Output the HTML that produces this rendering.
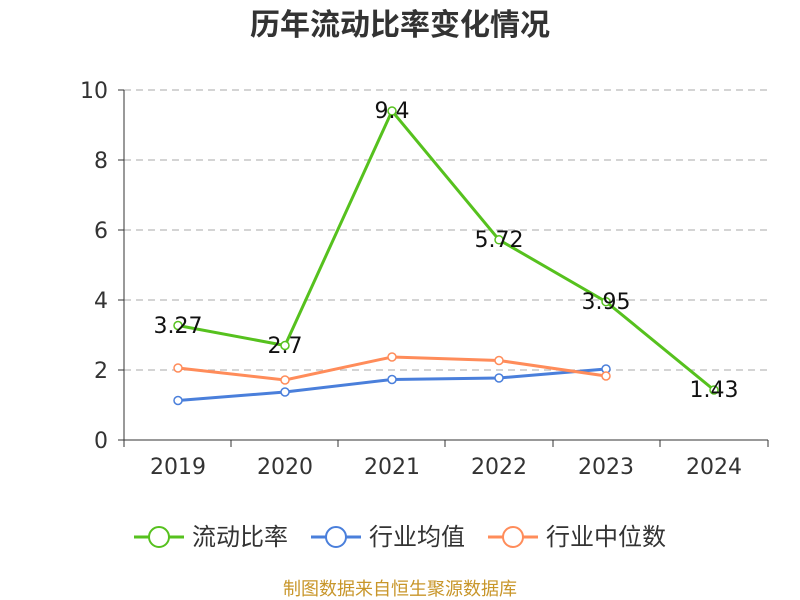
<!DOCTYPE html>
<html><head><meta charset="utf-8"><style>body{margin:0;background:#fff}svg{display:block}</style></head><body>
<svg width="800" height="600" xmlns="http://www.w3.org/2000/svg" font-family="DejaVu Sans, Noto Sans CJK SC, sans-serif">
<text x="400" y="35" text-anchor="middle" font-size="30" font-weight="bold" fill="#333" font-family="Noto Sans CJK SC, sans-serif">历年流动比率变化情况</text>
<g stroke="#bbb" stroke-dasharray="7,5" stroke-width="1.2">
<line x1="124" y1="90" x2="768" y2="90"/><line x1="124" y1="160" x2="768" y2="160"/><line x1="124" y1="230" x2="768" y2="230"/><line x1="124" y1="300" x2="768" y2="300"/><line x1="124" y1="370" x2="768" y2="370"/>
</g>
<g stroke="#333" stroke-width="1">
<line x1="124" y1="90" x2="124" y2="440"/>
<line x1="118" y1="90" x2="124" y2="90"/><line x1="118" y1="160" x2="124" y2="160"/><line x1="118" y1="230" x2="124" y2="230"/><line x1="118" y1="300" x2="124" y2="300"/><line x1="118" y1="370" x2="124" y2="370"/><line x1="118" y1="440" x2="124" y2="440"/>
<line x1="124" y1="440" x2="768" y2="440"/>
<line x1="124" y1="440" x2="124" y2="447"/><line x1="231" y1="440" x2="231" y2="447"/><line x1="338" y1="440" x2="338" y2="447"/><line x1="445" y1="440" x2="445" y2="447"/><line x1="553" y1="440" x2="553" y2="447"/><line x1="660" y1="440" x2="660" y2="447"/><line x1="768" y1="440" x2="768" y2="447"/>
</g>
<g font-size="22" fill="#333" text-anchor="end">
<text x="108" y="98">10</text><text x="108" y="168">8</text><text x="108" y="238">6</text><text x="108" y="308">4</text><text x="108" y="378">2</text><text x="108" y="448">0</text>
</g>
<g font-size="22" fill="#333" text-anchor="middle">
<text x="178" y="474">2019</text><text x="285" y="474">2020</text><text x="392" y="474">2021</text><text x="499" y="474">2022</text><text x="606" y="474">2023</text><text x="714" y="474">2024</text>
</g>
<polyline fill="none" stroke="#4a7fdb" stroke-width="3" points="178,400.5 285,392 392,379.5 499,378 606,369"/>
<polyline fill="none" stroke="#ff8c5a" stroke-width="3" points="178,368 285,380 392,357 499,360.5 606,376"/>
<polyline fill="none" stroke="#56c11e" stroke-width="3" points="178,325.5 285,345.5 392,111 499,239.8 606,301.7 714,390"/>
<g fill="#fff" stroke-width="1.5">
<g stroke="#4a7fdb"><circle cx="178" cy="400.5" r="4"/><circle cx="285" cy="392" r="4"/><circle cx="392" cy="379.5" r="4"/><circle cx="499" cy="378" r="4"/><circle cx="606" cy="369" r="4"/></g>
<g stroke="#ff8c5a"><circle cx="178" cy="368" r="4"/><circle cx="285" cy="380" r="4"/><circle cx="392" cy="357" r="4"/><circle cx="499" cy="360.5" r="4"/><circle cx="606" cy="376" r="4"/></g>
<g stroke="#56c11e"><circle cx="178" cy="325.5" r="4"/><circle cx="285" cy="345.5" r="4"/><circle cx="392" cy="111" r="4"/><circle cx="499" cy="239.8" r="4"/><circle cx="606" cy="301.7" r="4"/><circle cx="714" cy="390" r="4"/></g>
</g>
<g font-size="22" fill="#111" text-anchor="middle">
<text x="178" y="333">3.27</text><text x="285" y="353">2.7</text><text x="392" y="118">9.4</text><text x="499" y="247">5.72</text><text x="606" y="309">3.95</text><text x="714" y="397">1.43</text>
</g>
<g font-size="24" fill="#333">
<line x1="134" y1="537" x2="184" y2="537" stroke="#56c11e" stroke-width="3"/><circle cx="159" cy="537" r="10" fill="#fff" stroke="#56c11e" stroke-width="2"/><text x="192" y="545">流动比率</text>
<line x1="311" y1="537" x2="361" y2="537" stroke="#4a7fdb" stroke-width="3"/><circle cx="336" cy="537" r="10" fill="#fff" stroke="#4a7fdb" stroke-width="2"/><text x="369" y="545">行业均值</text>
<line x1="488" y1="537" x2="538" y2="537" stroke="#ff8c5a" stroke-width="3"/><circle cx="513" cy="537" r="10" fill="#fff" stroke="#ff8c5a" stroke-width="2"/><text x="546" y="545">行业中位数</text>
</g>
<text x="400" y="595" text-anchor="middle" font-size="18" fill="#c8962a">制图数据来自恒生聚源数据库</text>
</svg>
</body></html>
